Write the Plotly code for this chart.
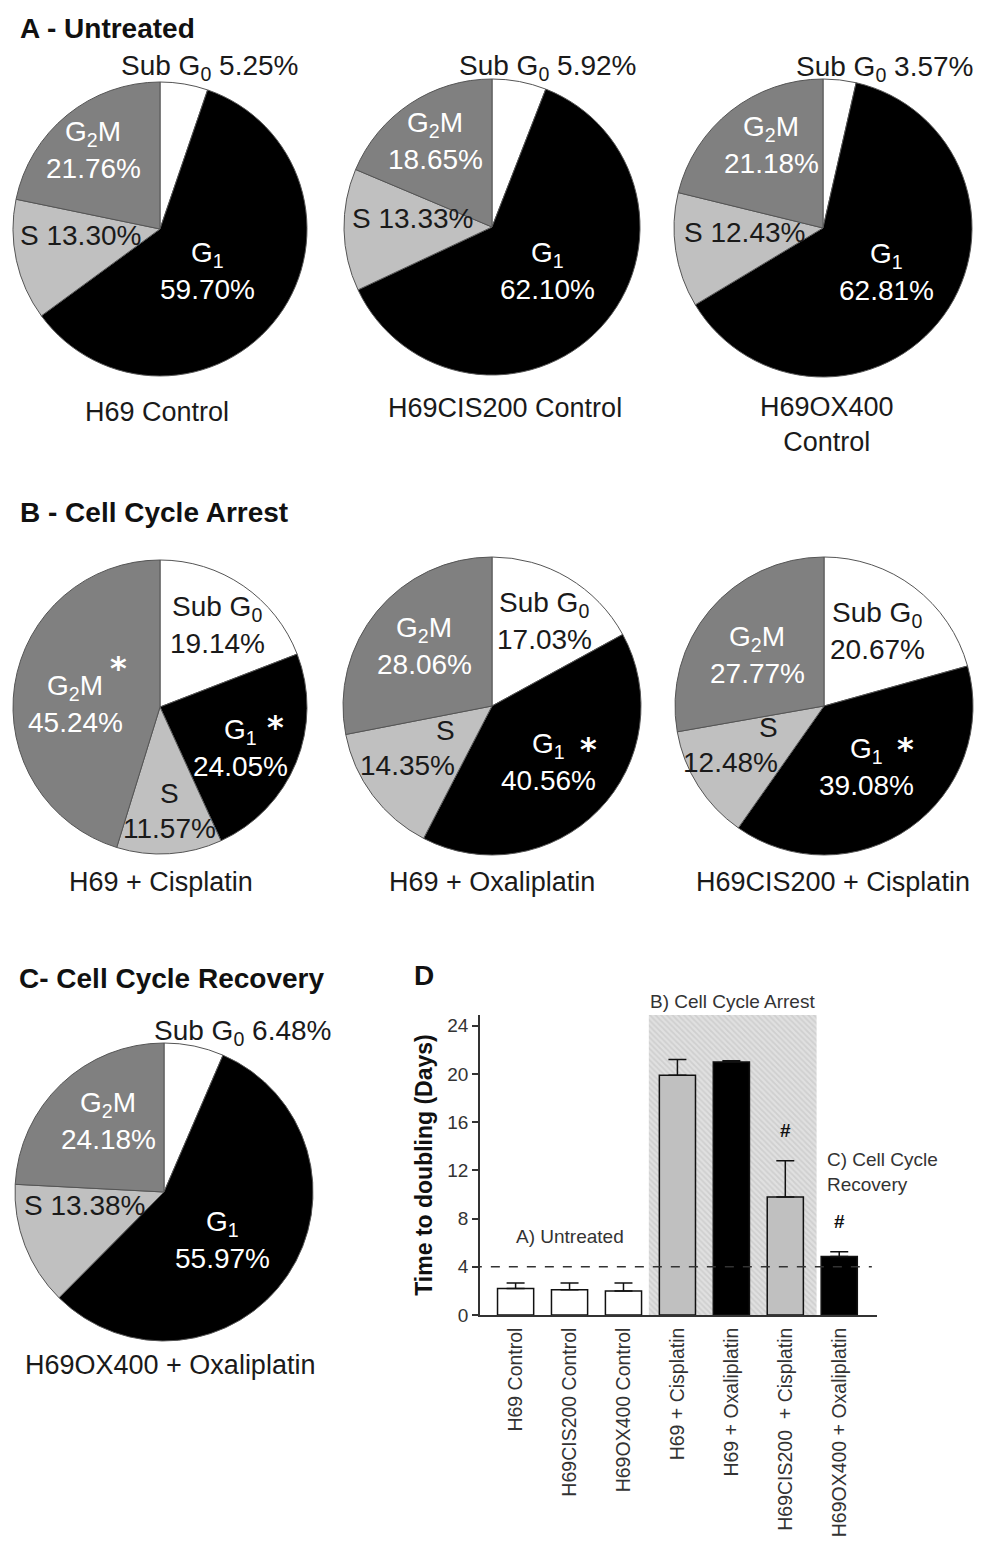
import plotly.graph_objects as go

# page is 1006x1555; the browser body adds an 8 px margin around the figure
PAGE_W, PAGE_H = 1006, 1555
OFF = 8
W, H = PAGE_W - 2 * OFF, PAGE_H - 2 * OFF
FONT = "Liberation Sans, Arial, sans-serif"

# ---------------- data ----------------
phases = ["Sub G0", "G1", "S", "G2M"]
phase_labels = ["Sub G<sub>0</sub>", "G<sub>1</sub>", "S", "G<sub>2</sub>M"]

pie_names = ["H69 Control", "H69CIS200 Control", "H69OX400<br>Control",
             "H69 + Cisplatin", "H69 + Oxaliplatin", "H69CIS200 + Cisplatin",
             "H69OX400 + Oxaliplatin"]
sub_g0 = [5.25, 5.92, 3.57, 19.14, 17.03, 20.67, 6.48]
g1 = [59.70, 62.10, 62.81, 24.05, 40.56, 39.08, 55.97]
s_phase = [13.30, 13.33, 12.43, 11.57, 14.35, 12.48, 13.38]
g2m = [21.76, 18.65, 21.18, 45.24, 28.06, 27.77, 24.18]
sig_g1 = [False, False, False, True, True, True, False]
sig_g2m = [False, False, False, True, False, False, False]

panel_titles = ["A - Untreated", "B - Cell Cycle Arrest", "C- Cell Cycle Recovery", "D"]

bar_categories = ["H69 Control", "H69CIS200 Control", "H69OX400 Control",
                  "H69 + Cisplatin", "H69 + Oxaliplatin",
                  "H69CIS200\u00a0 + Cisplatin", "H69OX400 + Oxaliplatin"]
doubling_days = [2.2, 2.1, 2.0, 19.9, 21.0, 9.8, 4.85]
doubling_err = [0.45, 0.55, 0.65, 1.3, 0.1, 3.0, 0.4]
bar_group = ["A", "A", "A", "B", "B", "B", "C"]
hash_sig = [False, False, False, False, False, True, True]
threshold_days = 4
y_ticks = [0, 4, 8, 12, 16, 20, 24]
y_max = 24.9

# ---------------- style / layout ----------------
phase_colors = ["#ffffff", "#000000", "#c0c0c0", "#808080"]
text_colors = ["#1a1a1a", "#ffffff", "#1a1a1a", "#ffffff"]
bar_colors = ["#ffffff", "#ffffff", "#ffffff", "#c0c0c0", "#000000", "#c0c0c0", "#000000"]
LINE_GAP = 35  # px between the two lines of a stacked pie label

# pie center x, center y, radius (page pixels)
pie_geom = [(160, 229, 147), (492, 227, 148), (823, 228, 149),
            (160, 707, 147), (492, 706, 149), (824, 706, 149),
            (164, 1192, 149)]
# per pie, per phase: (dx, dy, mode, anchor)
label_layout = [
    [(49, -162, "inline", "center"), (47, 43, "stack", "center"), (-80, 6, "inline", "center"), (-67, -78, "stack", "center")],
    [(55, -160, "inline", "center"), (55, 45, "stack", "center"), (-80, -9, "inline", "center"), (-57, -85, "stack", "center")],
    [(61, -160, "inline", "center"), (63, 45, "stack", "center"), (-79, 5, "inline", "center"), (-52, -82, "stack", "center")],
    [(57, -81, "stack", "center"), (80, 42, "stack", "center"), (9, 104, "stack", "center"), (-85, -2, "stack", "center")],
    [(52, -84, "stack", "center"), (56, 57, "stack", "center"), (-35, 42, "stack", "right"), (-68, -59, "stack", "center")],
    [(53, -74, "stack", "center"), (42, 62, "stack", "center"), (-44, 39, "stack", "right"), (-67, -50, "stack", "center")],
    [(78, -160, "inline", "center"), (58, 49, "stack", "center"), (-80, 13, "inline", "center"), (-56, -70, "stack", "center")],
]
# significance star offsets from pie centre: G1 star, G2M star
star_g1_pos = [None, None, None, (115, 13), (96, 36), (81, 36), None]
star_g2m_pos = [None, None, None, (-42, -46), None, None, None]
name_pos = [(157, 412), (505, 408), (827, 425), (161, 882), (492, 882), (833, 882), (170, 1365)]
title_pos = [(18, 28), (18, 512), (17, 978), (412, 975)]


def px(x):
    return (x - OFF) / W


def py(y):
    return 1 - (y - OFF) / H


fig = go.Figure()
annotations = []


def add_text(x, y, text, size, color, xanchor="center", align="center", family=FONT):
    annotations.append(dict(
        x=px(x), y=py(y), xref="paper", yref="paper", text=text, showarrow=False,
        xanchor=xanchor, yanchor="middle", align=align,
        font=dict(size=size, color=color, family=family),
    ))


for i in range(len(pie_names)):
    cx, cy, r = pie_geom[i]
    vals = [sub_g0[i], g1[i], s_phase[i], g2m[i]]
    fig.add_trace(go.Pie(
        values=vals, labels=phases, sort=False, direction="clockwise", rotation=0,
        marker=dict(colors=phase_colors, line=dict(color="#555555", width=1)),
        textinfo="none", hoverinfo="label+percent", showlegend=False,
        domain=dict(x=[px(cx - r), px(cx + r)], y=[py(cy + r), py(cy - r)]),
    ))
    for k in range(4):
        dx, dy, mode, anchor = label_layout[i][k]
        lab = phase_labels[k]
        val = f"{vals[k]:.2f}%"
        if mode == "inline":
            add_text(cx + dx, cy + dy, f"{lab} {val}", 28, text_colors[k], anchor, anchor)
        else:
            add_text(cx + dx, cy + dy - LINE_GAP / 2, lab, 28, text_colors[k], anchor, anchor)
            add_text(cx + dx, cy + dy + LINE_GAP / 2, val, 28, text_colors[k], anchor, anchor)
    for flag, pos in ((sig_g1[i], star_g1_pos[i]), (sig_g2m[i], star_g2m_pos[i])):
        if flag and pos is not None:
            add_text(cx + pos[0], cy + pos[1] + 7, "<b>*</b>", 32, "#ffffff",
                     family="DejaVu Sans, sans-serif")
    nx, ny = name_pos[i]
    add_text(nx, ny, pie_names[i], 27, "#1a1a1a")

for t, (tx, ty) in zip(panel_titles, title_pos):
    add_text(tx, ty, f"<b>{t}</b>", 28, "#111111", "left", "left")

# ---------------- bar chart ----------------
xs = list(range(len(bar_categories)))
b_idx = [j for j, g in enumerate(bar_group) if g == "B"]
a_idx = [j for j, g in enumerate(bar_group) if g == "A"]
c_idx = [j for j, g in enumerate(bar_group) if g == "C"]
reg_x0 = b_idx[0] - 0.53
reg_x1 = b_idx[-1] + 0.58

fig.add_trace(go.Bar(
    x=[(reg_x0 + reg_x1) / 2], y=[y_max], width=[reg_x1 - reg_x0],
    marker=dict(color="#e0e0e0", line=dict(width=0),
                pattern=dict(shape="\\", fgcolor="#bdbdbd", size=4, solidity=0.45)),
    hoverinfo="skip", showlegend=False, xaxis="x", yaxis="y",
))
fig.add_trace(go.Bar(
    x=xs, y=doubling_days, width=0.67,
    marker=dict(color=bar_colors, line=dict(color="#111111", width=1.5)),
    error_y=dict(type="data", array=doubling_err, arrayminus=[0] * len(xs),
                 symmetric=False, color="#111111", thickness=1.5, width=9),
    showlegend=False, xaxis="x", yaxis="y",
))

fig.add_shape(type="line", xref="x domain", yref="y", x0=-0.018, x1=0.987,
              y0=threshold_days, y1=threshold_days,
              line=dict(color="#333333", width=1.5, dash="dash"))

ann_font = dict(size=19, color="#333333", family=FONT)
annotations.append(dict(x=sum(a_idx) / len(a_idx), y=6.5, xref="x", yref="y",
                        text="A) Untreated", showarrow=False, font=ann_font))
annotations.append(dict(x=(reg_x0 + reg_x1) / 2, y=y_max, xref="x", yref="y",
                        text="B) Cell Cycle Arrest", showarrow=False,
                        yanchor="bottom", yshift=1, font=ann_font))
annotations.append(dict(x=c_idx[0] - 0.27, y=11.9, xref="x", yref="y",
                        text="C) Cell Cycle<br>Recovery", showarrow=False,
                        xanchor="left", align="left", font=ann_font))
for j in xs:
    if hash_sig[j]:
        annotations.append(dict(x=j, y=doubling_days[j] + doubling_err[j], xref="x", yref="y",
                                text="<b>#</b>", showarrow=False, yanchor="middle", yshift=30,
                                font=dict(size=19, color="#111111", family=FONT)))

fig.update_layout(
    width=W, height=H, margin=dict(l=0, r=0, t=0, b=0, autoexpand=False),
    paper_bgcolor="white", plot_bgcolor="rgba(0,0,0,0)",
    font=dict(family=FONT, color="#1a1a1a"),
    barmode="overlay", showlegend=False,
    annotations=annotations,
    xaxis=dict(domain=[px(480), px(877)], range=[-0.66, 6.7], automargin=False,
               tickvals=xs, ticktext=bar_categories, tickangle=-90,
               ticks="outside", ticklen=3, tickcolor="rgba(0,0,0,0)",
               showline=True, linecolor="#333333", linewidth=1.5,
               showgrid=False, zeroline=False,
               tickfont=dict(size=19.5, color="#333333", family=FONT),
               anchor="y"),
    yaxis=dict(domain=[py(1315), py(1015)], range=[0, y_max], automargin=False,
               tickvals=y_ticks, ticks="outside", ticklen=6, tickwidth=1.5,
               tickcolor="#333333", showline=True, linecolor="#333333", linewidth=1.5,
               showgrid=False, zeroline=False,
               tickfont=dict(size=19, color="#333333", family=FONT),
               title=dict(text="<b>Time to doubling (Days)</b>", standoff=8,
                          font=dict(size=23, color="#111111", family=FONT)),
               anchor="x"),
)

fig.write_html("out.html")
